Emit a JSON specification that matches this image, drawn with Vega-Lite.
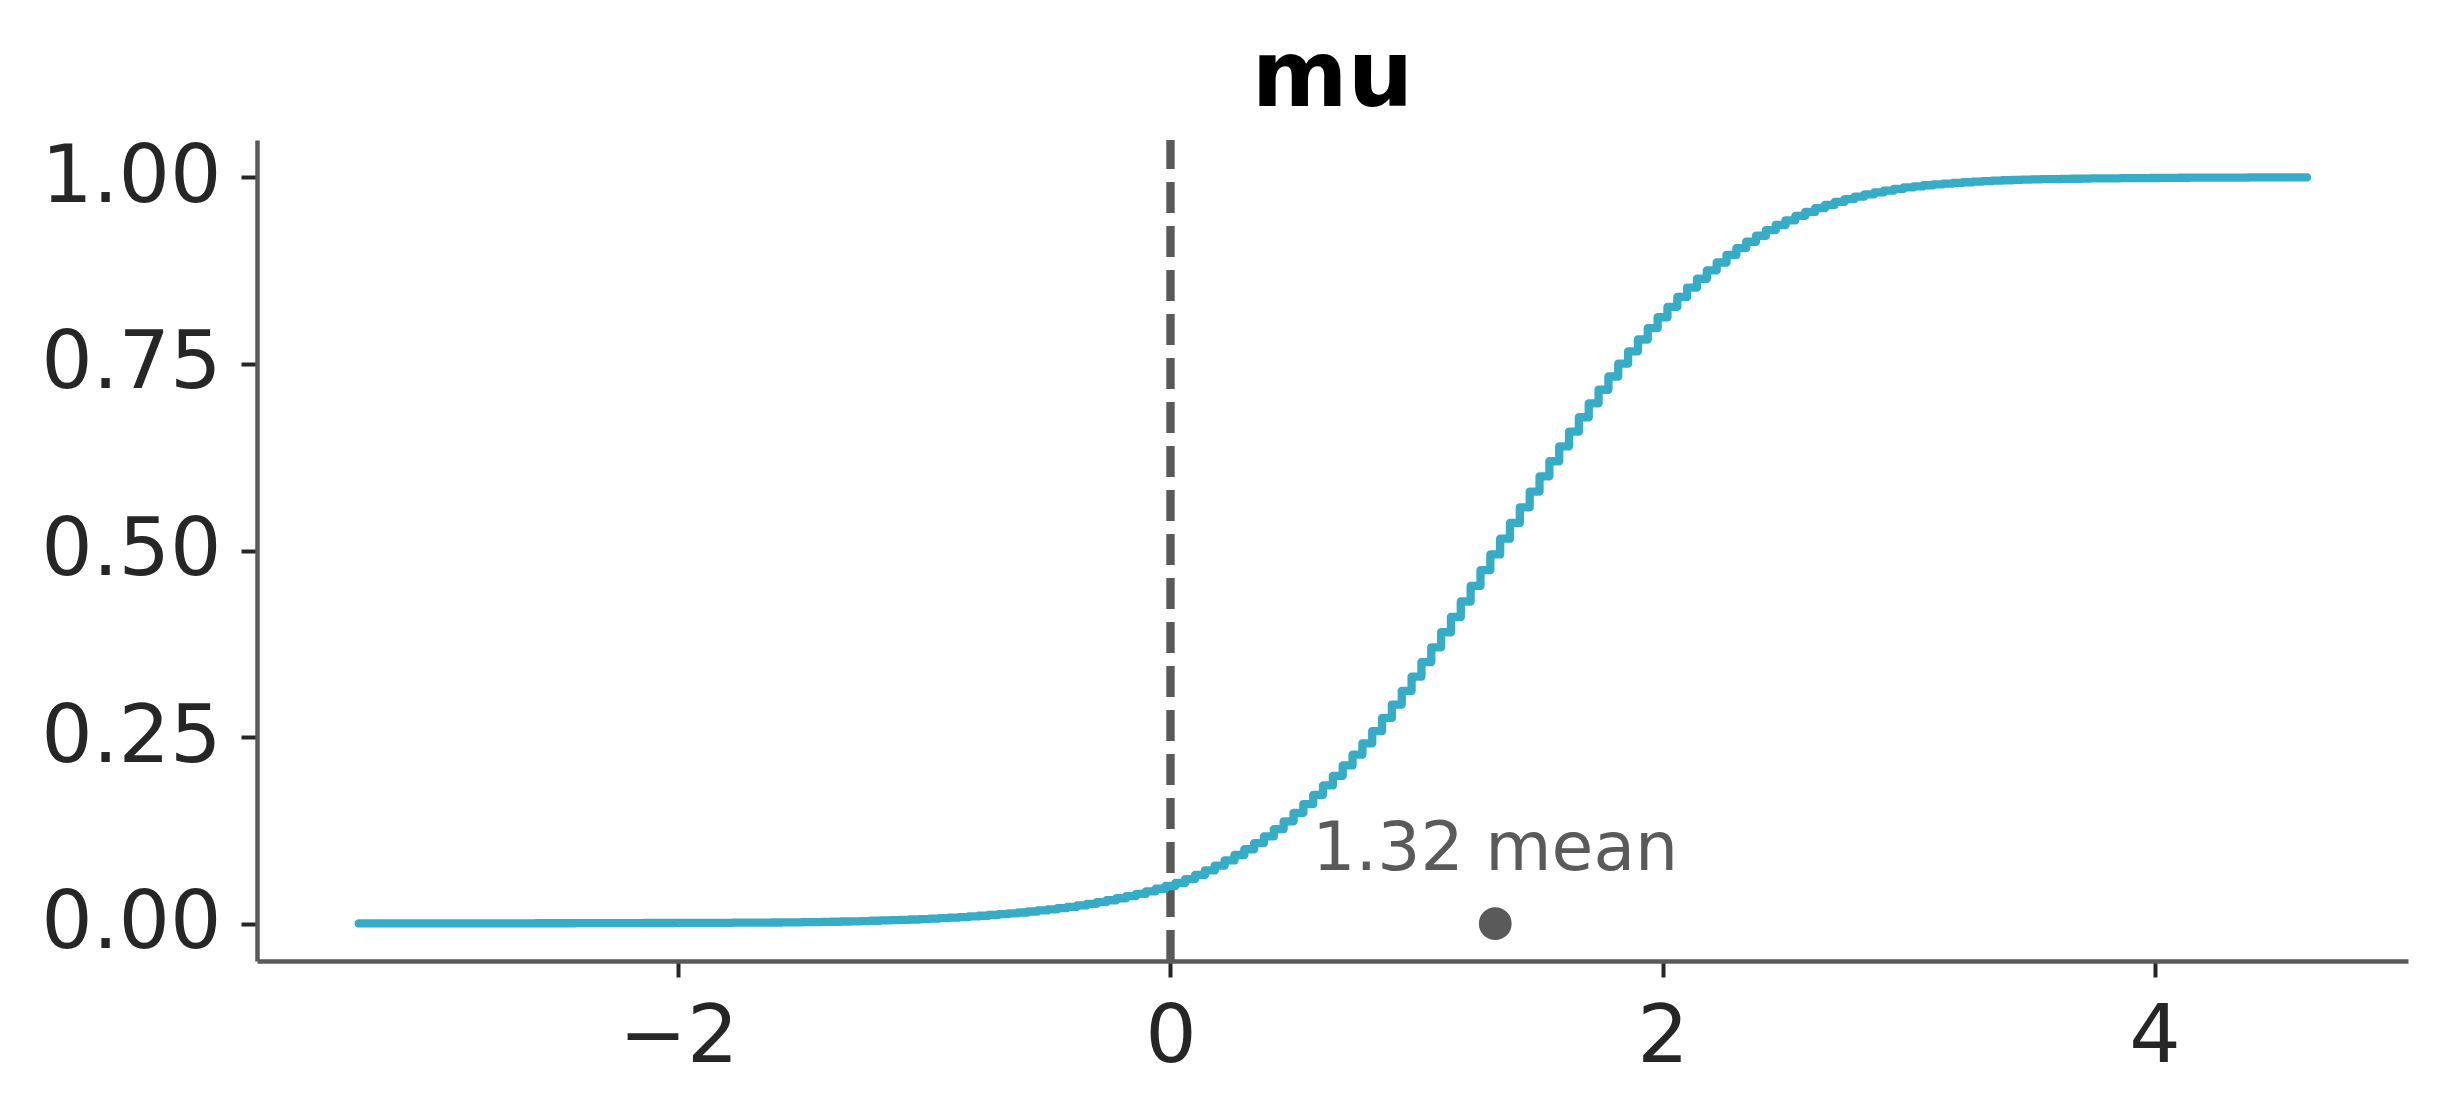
{
  "$schema": "https://vega.github.io/schema/vega-lite/v6.json",
  "width": 2151,
  "height": 821,
  "autosize": "none",
  "padding": {"left": 257, "top": 140, "right": 38, "bottom": 157},
  "background": "white",
  "title": {"text": "mu", "font": "DejaVu Sans", "fontSize": 92, "fontWeight": "bold", "color": "#000000", "anchor": "middle", "baseline": "alphabetic", "offset": 31, "dy": 93},
  "config": {
    "view": {"stroke": null},
    "font": "DejaVu Sans",
    "axis": {
      "domainColor": "#5a5a5a",
      "domainWidth": 4.5,
      "tickColor": "#262626",
      "tickWidth": 4,
      "tickSize": 16,
      "labelFont": "DejaVu Sans",
      "labelFontSize": 81,
      "labelColor": "#262626",
      "labelPadding": 20,
      "labelLimit": 500,
      "grid": false,
      "labelFlush": false,
      "labelOverlap": false
    }
  },
  "datasets": {
    "estimate": [{"mean": 1.32, "y": 0, "label": "1.32 mean"}],
    "ecdf": [
      {"x": -3.30, "y": 0.0003}, {"x": -3.26, "y": 0.0003}, {"x": -3.22, "y": 0.0003}, {"x": -3.18, "y": 0.0003}, {"x": -3.14, "y": 0.0003},
      {"x": -3.10, "y": 0.0004}, {"x": -3.06, "y": 0.0004}, {"x": -3.02, "y": 0.0004}, {"x": -2.98, "y": 0.0004}, {"x": -2.94, "y": 0.0004},
      {"x": -2.90, "y": 0.0004}, {"x": -2.86, "y": 0.0004}, {"x": -2.82, "y": 0.0005}, {"x": -2.78, "y": 0.0005}, {"x": -2.74, "y": 0.0005},
      {"x": -2.70, "y": 0.0005}, {"x": -2.66, "y": 0.0005}, {"x": -2.62, "y": 0.0005}, {"x": -2.58, "y": 0.0006}, {"x": -2.54, "y": 0.0006},
      {"x": -2.50, "y": 0.0006}, {"x": -2.46, "y": 0.0006}, {"x": -2.42, "y": 0.0007}, {"x": -2.38, "y": 0.0007}, {"x": -2.34, "y": 0.0007},
      {"x": -2.30, "y": 0.0007}, {"x": -2.26, "y": 0.0008}, {"x": -2.22, "y": 0.0008}, {"x": -2.18, "y": 0.0008}, {"x": -2.14, "y": 0.0009},
      {"x": -2.10, "y": 0.0009}, {"x": -2.06, "y": 0.0009}, {"x": -2.02, "y": 0.0010}, {"x": -1.98, "y": 0.0010}, {"x": -1.94, "y": 0.0011},
      {"x": -1.90, "y": 0.0011}, {"x": -1.86, "y": 0.0012}, {"x": -1.82, "y": 0.0012}, {"x": -1.78, "y": 0.0013}, {"x": -1.74, "y": 0.0014},
      {"x": -1.70, "y": 0.0014}, {"x": -1.66, "y": 0.0015}, {"x": -1.62, "y": 0.0016}, {"x": -1.58, "y": 0.0017}, {"x": -1.54, "y": 0.0018},
      {"x": -1.50, "y": 0.0020}, {"x": -1.46, "y": 0.0022}, {"x": -1.42, "y": 0.0024}, {"x": -1.38, "y": 0.0026}, {"x": -1.34, "y": 0.0029},
      {"x": -1.30, "y": 0.0032}, {"x": -1.26, "y": 0.0035}, {"x": -1.22, "y": 0.0039}, {"x": -1.18, "y": 0.0043}, {"x": -1.14, "y": 0.0047},
      {"x": -1.10, "y": 0.0051}, {"x": -1.06, "y": 0.0056}, {"x": -1.02, "y": 0.0062}, {"x": -0.98, "y": 0.0068}, {"x": -0.94, "y": 0.0074},
      {"x": -0.90, "y": 0.0081}, {"x": -0.86, "y": 0.0089}, {"x": -0.82, "y": 0.0097}, {"x": -0.78, "y": 0.0106}, {"x": -0.74, "y": 0.0116},
      {"x": -0.70, "y": 0.0127}, {"x": -0.66, "y": 0.0138}, {"x": -0.62, "y": 0.0150}, {"x": -0.58, "y": 0.0163}, {"x": -0.54, "y": 0.0177},
      {"x": -0.50, "y": 0.0192}, {"x": -0.46, "y": 0.0208}, {"x": -0.42, "y": 0.0226}, {"x": -0.38, "y": 0.0245}, {"x": -0.34, "y": 0.0266},
      {"x": -0.30, "y": 0.0289}, {"x": -0.26, "y": 0.0314}, {"x": -0.22, "y": 0.0341}, {"x": -0.18, "y": 0.0370}, {"x": -0.14, "y": 0.0400},
      {"x": -0.10, "y": 0.0433}, {"x": -0.06, "y": 0.0468}, {"x": -0.02, "y": 0.0505}, {"x": 0.02, "y": 0.0545}, {"x": 0.06, "y": 0.0598},
      {"x": 0.10, "y": 0.0653}, {"x": 0.14, "y": 0.0713}, {"x": 0.18, "y": 0.0779}, {"x": 0.22, "y": 0.0847}, {"x": 0.26, "y": 0.0920},
      {"x": 0.30, "y": 0.0997}, {"x": 0.34, "y": 0.1080}, {"x": 0.38, "y": 0.1169}, {"x": 0.42, "y": 0.1267}, {"x": 0.46, "y": 0.1370},
      {"x": 0.50, "y": 0.1484}, {"x": 0.54, "y": 0.1603}, {"x": 0.58, "y": 0.1726}, {"x": 0.62, "y": 0.1852}, {"x": 0.66, "y": 0.1981},
      {"x": 0.70, "y": 0.2120}, {"x": 0.74, "y": 0.2264}, {"x": 0.78, "y": 0.2417}, {"x": 0.82, "y": 0.2581}, {"x": 0.86, "y": 0.2757},
      {"x": 0.90, "y": 0.2936}, {"x": 0.94, "y": 0.3120}, {"x": 0.98, "y": 0.3311}, {"x": 1.02, "y": 0.3505}, {"x": 1.06, "y": 0.3703},
      {"x": 1.10, "y": 0.3905}, {"x": 1.14, "y": 0.4109}, {"x": 1.18, "y": 0.4317}, {"x": 1.22, "y": 0.4526}, {"x": 1.26, "y": 0.4737},
      {"x": 1.30, "y": 0.4947}, {"x": 1.34, "y": 0.5158}, {"x": 1.38, "y": 0.5369}, {"x": 1.42, "y": 0.5579}, {"x": 1.46, "y": 0.5788},
      {"x": 1.50, "y": 0.5994}, {"x": 1.54, "y": 0.6196}, {"x": 1.58, "y": 0.6396}, {"x": 1.62, "y": 0.6593}, {"x": 1.66, "y": 0.6785},
      {"x": 1.70, "y": 0.6972}, {"x": 1.74, "y": 0.7154}, {"x": 1.78, "y": 0.7331}, {"x": 1.82, "y": 0.7503}, {"x": 1.86, "y": 0.7668},
      {"x": 1.90, "y": 0.7827}, {"x": 1.94, "y": 0.7979}, {"x": 1.98, "y": 0.8125}, {"x": 2.02, "y": 0.8264}, {"x": 2.06, "y": 0.8397},
      {"x": 2.10, "y": 0.8523}, {"x": 2.14, "y": 0.8641}, {"x": 2.18, "y": 0.8754}, {"x": 2.22, "y": 0.8859}, {"x": 2.26, "y": 0.8959},
      {"x": 2.30, "y": 0.9051}, {"x": 2.34, "y": 0.9137}, {"x": 2.38, "y": 0.9217}, {"x": 2.42, "y": 0.9292}, {"x": 2.46, "y": 0.9361},
      {"x": 2.50, "y": 0.9424}, {"x": 2.54, "y": 0.9483}, {"x": 2.58, "y": 0.9536}, {"x": 2.62, "y": 0.9586}, {"x": 2.66, "y": 0.9631},
      {"x": 2.70, "y": 0.9671}, {"x": 2.74, "y": 0.9709}, {"x": 2.78, "y": 0.9742}, {"x": 2.82, "y": 0.9772}, {"x": 2.86, "y": 0.9798},
      {"x": 2.90, "y": 0.9823}, {"x": 2.94, "y": 0.9845}, {"x": 2.98, "y": 0.9864}, {"x": 3.02, "y": 0.9880}, {"x": 3.06, "y": 0.9894},
      {"x": 3.10, "y": 0.9905}, {"x": 3.14, "y": 0.9916}, {"x": 3.18, "y": 0.9925}, {"x": 3.22, "y": 0.9934}, {"x": 3.26, "y": 0.9942},
      {"x": 3.30, "y": 0.9950}, {"x": 3.34, "y": 0.9956}, {"x": 3.38, "y": 0.9961}, {"x": 3.42, "y": 0.9965}, {"x": 3.46, "y": 0.9969},
      {"x": 3.50, "y": 0.9972}, {"x": 3.54, "y": 0.9975}, {"x": 3.58, "y": 0.9977}, {"x": 3.62, "y": 0.9979}, {"x": 3.66, "y": 0.9981},
      {"x": 3.70, "y": 0.9983}, {"x": 3.74, "y": 0.9985}, {"x": 3.78, "y": 0.9986}, {"x": 3.82, "y": 0.9987}, {"x": 3.86, "y": 0.9988},
      {"x": 3.90, "y": 0.9989}, {"x": 3.94, "y": 0.9990}, {"x": 3.98, "y": 0.9991}, {"x": 4.02, "y": 0.9992}, {"x": 4.06, "y": 0.9993},
      {"x": 4.10, "y": 0.9994}, {"x": 4.14, "y": 0.9995}, {"x": 4.18, "y": 0.9995}, {"x": 4.22, "y": 0.9996}, {"x": 4.26, "y": 0.9996},
      {"x": 4.30, "y": 0.9997}, {"x": 4.34, "y": 0.9997}, {"x": 4.38, "y": 0.9998}, {"x": 4.42, "y": 0.9998}, {"x": 4.46, "y": 0.9998},
      {"x": 4.50, "y": 0.9999}, {"x": 4.54, "y": 0.9999}, {"x": 4.58, "y": 0.9999}, {"x": 4.62, "y": 1.0}
    ]
  },
  "data": {"name": "estimate"},
  "encoding": {
    "x": {"type": "quantitative", "scale": {"domain": [-3.713, 5.03], "nice": false, "zero": false},
          "axis": {"values": [-2, 0, 2, 4], "format": "d", "title": null}},
    "y": {"type": "quantitative", "scale": {"domain": [-0.05, 1.05], "nice": false, "zero": false},
          "axis": {"values": [0, 0.25, 0.5, 0.75, 1], "format": ".2f", "title": null}}
  },
  "layer": [
    {
      "mark": {"type": "rule", "color": "#5a5a5a", "strokeWidth": 8.4, "strokeDash": [31, 13]},
      "encoding": {
        "x": {"datum": 0, "type": "quantitative"},
        "y": {"datum": -0.05, "type": "quantitative"},
        "y2": {"datum": 1.05}
      }
    },
    {
      "data": {"name": "ecdf"},
      "mark": {"type": "line", "interpolate": "step-after", "color": "#36acc6", "strokeWidth": 8.3, "strokeCap": "round", "strokeJoin": "round"},
      "encoding": {
        "x": {"field": "x", "type": "quantitative"},
        "y": {"field": "y", "type": "quantitative"}
      }
    },
    {
      "mark": {"type": "point", "filled": true, "color": "#5a5a5a", "opacity": 1, "size": 1075, "strokeWidth": 0},
      "encoding": {
        "x": {"field": "mean", "type": "quantitative"},
        "y": {"field": "y", "type": "quantitative"}
      }
    },
    {
      "mark": {"type": "text", "font": "DejaVu Sans", "fontSize": 68, "color": "#5a5a5a", "align": "center", "baseline": "alphabetic", "dy": -54},
      "encoding": {
        "x": {"field": "mean", "type": "quantitative"},
        "y": {"field": "y", "type": "quantitative"},
        "text": {"field": "label"}
      }
    }
  ]
}
